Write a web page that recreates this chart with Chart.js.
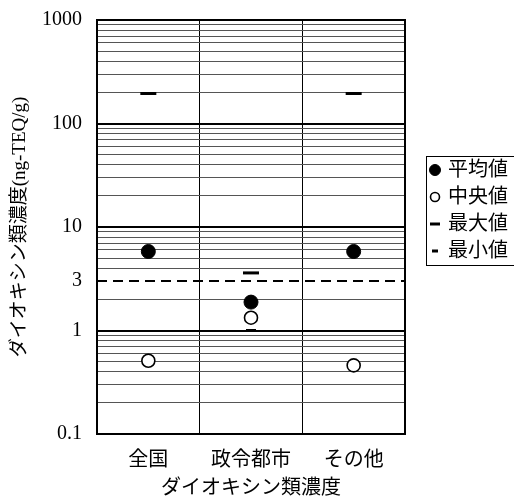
<!DOCTYPE html>
<html>
<head>
<meta charset="utf-8">
<script src="https://cdn.jsdelivr.net/npm/chart.js@4"></script>
<style>
  html, body { margin: 0; padding: 0; background: #fff; }
</style>
</head>
<body>
<canvas id="chart" width="514" height="496"></canvas>
<script>
const categories = ['全国', '政令都市', 'その他'];
const meanValues = [5.8, 1.88, 5.8];
const medianValues = [0.51, 1.33, 0.46];
const maxValues = [195, 3.6, 195];
const minValues = [null, 1.0, null];
const seriesNames = ['平均値', '中央値', '最大値', '最小値'];
const refLevel = 3; // dashed guide line
const yTickLabels = [0.1, 1, 3, 10, 100, 1000];

const FONT = "'Liberation Serif', 'Noto Sans CJK JP', serif";

// grid lines at every 1..9 step of each decade
const gridValues = [];
[0.1, 1, 10, 100].forEach(d => {
    for (let k = 1; k <= 9; k++) gridValues.push(d * k);
});
gridValues.push(1000);

const isDecade = v => Math.abs(Math.log10(v) - Math.round(Math.log10(v))) < 1e-9;
const isRef = v => Math.abs(v - refLevel) < 1e-9;

const framePlugin = {
    id: 'frame',
    beforeDatasetsDraw(chart) {
        const { ctx, chartArea: a } = chart;
        const y = Math.round(chart.scales.y.getPixelForValue(refLevel));
        ctx.save();
        ctx.strokeStyle = '#000';
        ctx.lineWidth = 2;
        ctx.setLineDash([10, 6]);
        ctx.beginPath();
        ctx.moveTo(a.left, y);
        ctx.lineTo(a.right, y);
        ctx.stroke();
        ctx.setLineDash([]);
        ctx.strokeRect(a.left, a.top, a.right - a.left, a.bottom - a.top);
        ctx.restore();
    }
};

const legendPlugin = {
    id: 'boxLegend',
    afterDraw(chart) {
        const ctx = chart.ctx;
        const left = 426, top = 156, rowH = 27;
        ctx.save();
        ctx.strokeStyle = '#000';
        ctx.lineWidth = 1;
        ctx.strokeRect(left + 0.5, top + 0.5, 100, 109);
        chart.data.datasets.forEach((ds, i) => {
            const y = top + 14 + i * rowH;
            ctx.fillStyle = ds.pointBackgroundColor;
            ctx.strokeStyle = ds.pointBorderColor;
            ctx.lineWidth = ds.pointBorderWidth;
            Chart.helpers.drawPoint(ctx, {
                pointStyle: ds.pointStyle,
                radius: ds.legendRadius,
                rotation: 0,
                borderWidth: ds.pointBorderWidth
            }, left + 9, y);
            ctx.fillStyle = '#000';
            ctx.font = '20px ' + FONT;
            ctx.textBaseline = 'middle';
            ctx.fillText(ds.label, left + 22, y + 1);
        });
        ctx.restore();
    }
};

const mkSet = (label, data, style) => Object.assign({
    label: label,
    data: data,
    showLine: false,
    pointBorderColor: '#000',
}, style);

const chart = new Chart(document.getElementById('chart').getContext('2d'), {
    type: 'line',
    data: {
        labels: categories,
        datasets: [
            mkSet(seriesNames[0], meanValues, { pointStyle: 'circle', pointRadius: 7, pointBackgroundColor: '#000', pointBorderWidth: 1, legendRadius: 5.5 }),
            mkSet(seriesNames[1], medianValues, { pointStyle: 'circle', pointRadius: 6.5, pointBackgroundColor: '#fff', pointBorderWidth: 1.6, legendRadius: 4.5 }),
            mkSet(seriesNames[2], maxValues, { pointStyle: 'line', pointRadius: 8, pointBackgroundColor: '#000', pointBorderWidth: 3, legendRadius: 5 }),
            mkSet(seriesNames[3], minValues, { pointStyle: 'line', pointRadius: 5, pointBackgroundColor: '#000', pointBorderWidth: 3, legendRadius: 3 }),
        ]
    },
    options: {
        responsive: false,
        animation: false,
        layout: { padding: { top: 20, right: 109, left: 0, bottom: 0 } },
        plugins: {
            legend: { display: false },
            tooltip: { enabled: false }
        },
        scales: {
            x: {
                type: 'category',
                offset: true,
                grid: { offset: true, color: '#000', lineWidth: 1, drawTicks: false },
                border: { display: false },
                ticks: { color: '#000', font: { family: FONT, size: 20 }, padding: 15 },
                title: {
                    display: true,
                    text: 'ダイオキシン類濃度',
                    color: '#000',
                    font: { family: FONT, size: 20 },
                    padding: { top: 0, bottom: -5 }
                },
                afterFit: s => { s.height = 62; }
            },
            y: {
                type: 'logarithmic',
                min: 0.1,
                max: 1000,
                afterBuildTicks: s => { s.ticks = gridValues.map(v => ({ value: v })); },
                ticks: {
                    autoSkip: false,
                    color: '#000',
                    padding: 15,
                    font: { family: FONT, size: 20 },
                    callback: v => {
                        const t = yTickLabels.find(t => Math.abs(t - v) / t < 1e-6);
                        return t === undefined ? '' : String(t);
                    }
                },
                grid: {
                    drawTicks: false,
                    color: c => isRef(c.tick.value) ? 'rgba(0,0,0,0)' : (isDecade(c.tick.value) ? '#000' : '#555'),
                    lineWidth: c => isDecade(c.tick.value) ? 2 : 1
                },
                border: { display: false },
                title: {
                    display: true,
                    text: 'ダイオキシン類濃度(ng-TEQ/g)',
                    color: '#000',
                    font: { family: FONT, size: 19 },
                    padding: { top: 9, bottom: 0 }
                },
                afterFit: s => {
                    s.width = 97;
                    s.paddingTop = 0;
                    s.paddingBottom = 0;
                }
            }
        }
    },
    plugins: [framePlugin, legendPlugin]
});
</script>
</body>
</html>
